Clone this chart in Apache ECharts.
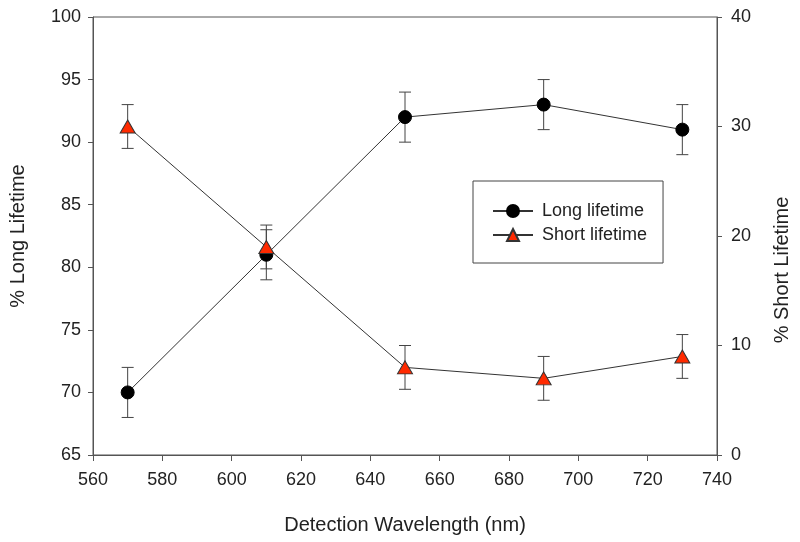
<!DOCTYPE html>
<html>
<head>
<meta charset="utf-8">
<script src="https://cdn.jsdelivr.net/npm/echarts@6/dist/echarts.min.js"></script>
<style>html,body{margin:0;padding:0;background:#fff;}#c{width:800px;height:542px;}</style>
</head>
<body>
<div id="c"></div>
<script>
var wavelengths = [570, 610, 650, 690, 730];
var longValues = [70, 81, 92, 93, 91];
var longErrors = [2, 2, 2, 2, 2];
var shortValues = [30, 19, 8, 7, 9];
var shortErrors = [2, 2, 2, 2, 2];
var xTicks = [560, 580, 600, 620, 640, 660, 680, 700, 720, 740];

var FONT = '"Liberation Sans", Arial, sans-serif';
var AX = '#555';

function pairs(xs, ys) { return xs.map(function (x, i) { return [x, ys[i]]; }); }
function errData(xs, ys, es) { return xs.map(function (x, i) { return [x, ys[i] - es[i], ys[i] + es[i]]; }); }

function errRender(params, api) {
  var x = api.value(0);
  var lo = api.coord([x, api.value(1)]);
  var hi = api.coord([x, api.value(2)]);
  var w = 6;
  var st = { stroke: '#444', lineWidth: 1 };
  return {
    type: 'group',
    children: [
      { type: 'line', shape: { x1: lo[0], y1: lo[1], x2: hi[0], y2: hi[1] }, style: st },
      { type: 'line', shape: { x1: lo[0] - w, y1: lo[1], x2: lo[0] + w, y2: lo[1] }, style: st },
      { type: 'line', shape: { x1: hi[0] - w, y1: hi[1], x2: hi[0] + w, y2: hi[1] }, style: st }
    ]
  };
}

var chart = echarts.init(document.getElementById('c'), null, { renderer: 'canvas' });
chart.setOption({
  backgroundColor: '#fff',
  animation: false,
  textStyle: { fontFamily: FONT },
  grid: { left: 92, right: 81, top: 17, bottom: 87, show: true, borderColor: AX, borderWidth: 1, backgroundColor: 'transparent' },
  legend: {
    data: ['Long lifetime', 'Short lifetime'],
    orient: 'vertical',
    left: 473, top: 181,
    padding: [21, 16, 19, 19],
    itemGap: 6,
    itemWidth: 40, itemHeight: 15,
    borderColor: '#444', borderWidth: 1,
    textStyle: { fontFamily: FONT, fontSize: 18, color: '#222', padding: [0, 0, 0, 4] }
  },
  xAxis: {
    type: 'value', min: 560, max: 740, interval: 20,
    name: 'Detection Wavelength (nm)', nameLocation: 'middle', nameGap: 60,
    nameTextStyle: { fontFamily: FONT, fontSize: 20, color: '#222' },
    axisLine: { lineStyle: { color: AX, width: 1 } },
    axisTick: { show: true, length: 6, inside: false, lineStyle: { color: AX } },
    axisLabel: { fontFamily: FONT, fontSize: 18, color: '#222', margin: 16,
      formatter: function (v) { return xTicks.indexOf(v) >= 0 ? String(v) : ''; } },
    splitLine: { show: false }
  },
  yAxis: [
    {
      type: 'value', min: 65, max: 100, interval: 5, position: 'left',
      name: '% Long Lifetime', nameLocation: 'middle', nameGap: 65, nameRotate: 90,
      nameTextStyle: { fontFamily: FONT, fontSize: 20, color: '#222' },
      axisLine: { show: true, lineStyle: { color: AX, width: 1 } },
      axisTick: { show: true, length: 5, lineStyle: { color: AX } },
      axisLabel: { fontFamily: FONT, fontSize: 18, color: '#222', margin: 12 },
      splitLine: { show: false }
    },
    {
      type: 'value', min: 0, max: 40, interval: 10, position: 'right',
      name: '% Short Lifetime', nameLocation: 'middle', nameGap: 55, nameRotate: 90,
      nameTextStyle: { fontFamily: FONT, fontSize: 20, color: '#222', padding: [0, 68, 0, 0] },
      axisLine: { show: true, lineStyle: { color: AX, width: 1 } },
      axisTick: { show: true, length: 5, lineStyle: { color: AX } },
      axisLabel: { fontFamily: FONT, fontSize: 18, color: '#222', margin: 14 },
      splitLine: { show: false }
    }
  ],
  series: [
    {
      type: 'custom', name: 'longErr', yAxisIndex: 0, renderItem: errRender,
      data: errData(wavelengths, longValues, longErrors), z: 1, silent: true
    },
    {
      type: 'custom', name: 'shortErr', yAxisIndex: 1, renderItem: errRender,
      data: errData(wavelengths, shortValues, shortErrors), z: 1, silent: true
    },
    {
      type: 'line', name: 'Long lifetime', yAxisIndex: 0,
      data: pairs(wavelengths, longValues),
      symbol: 'circle', symbolSize: 13,
      lineStyle: { color: '#333', width: 1 },
      itemStyle: { color: '#000', borderColor: '#000', borderWidth: 1 },
      z: 3
    },
    {
      type: 'line', name: 'Short lifetime', yAxisIndex: 1,
      data: pairs(wavelengths, shortValues),
      symbol: 'triangle', symbolSize: [15, 13],
      lineStyle: { color: '#333', width: 1 },
      itemStyle: { color: '#ff2a00', borderColor: '#333', borderWidth: 1 },
      z: 4
    }
  ]
});
</script>
</body>
</html>
